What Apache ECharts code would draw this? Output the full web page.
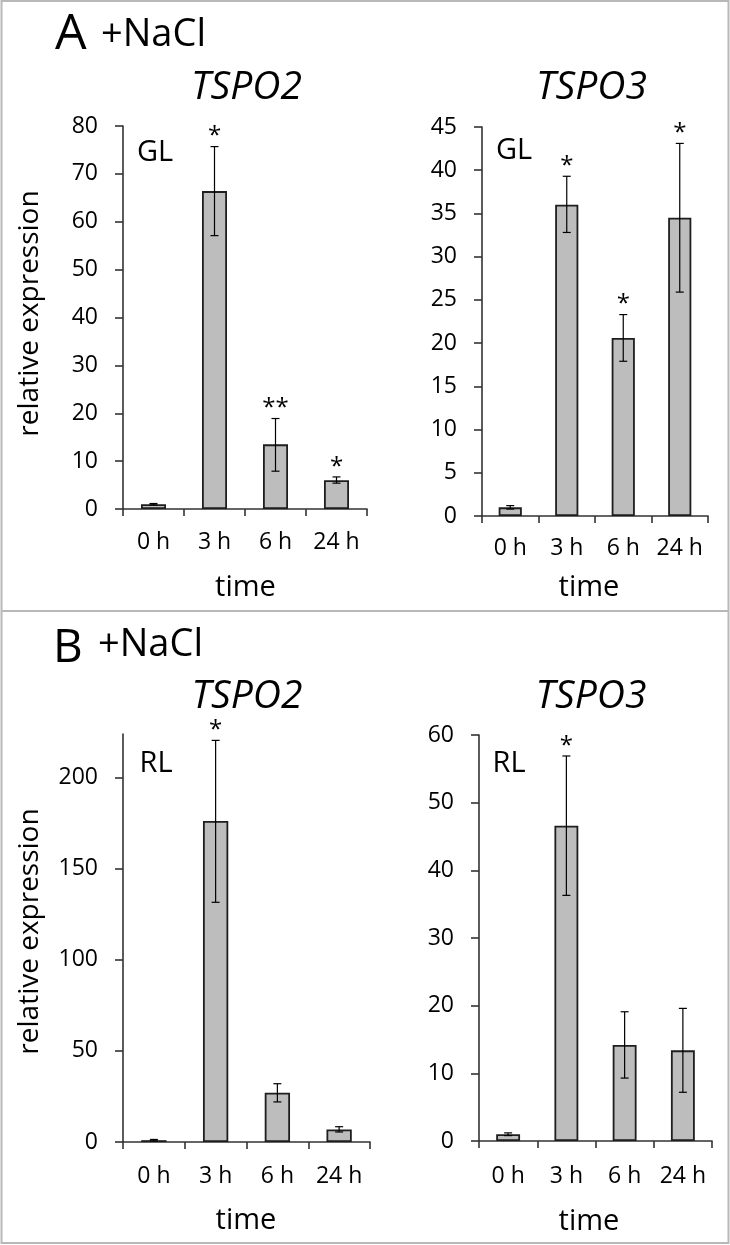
<!DOCTYPE html>
<html><head><meta charset="utf-8">
<script src="https://cdn.jsdelivr.net/npm/echarts@6/dist/echarts.min.js"></script>
<style>html,body{margin:0;padding:0;background:#fff}#c{width:730px;height:1245px}</style>
</head><body><div id="c"></div>
<script>
const categories = ['0 h', '3 h', '6 h', '24 h'];

// Panel A, GL, TSPO2
const a2Mean = [1.0, 66.4, 13.5, 6.0];
const a2Low  = [0.85, 57.1, 7.9, 5.4];
const a2High = [1.15, 75.7, 18.9, 6.7];
const a2Sig  = ['', '*', '**', '*'];
// Panel A, GL, TSPO3
const a3Mean = [1.0, 36.0, 20.6, 34.5];
const a3Low  = [0.8, 32.8, 17.9, 25.9];
const a3High = [1.2, 39.3, 23.3, 43.1];
const a3Sig  = ['', '*', '*', '*'];
// Panel B, RL, TSPO2
const b2Mean = [1.0, 176.2, 27.1, 6.9];
const b2Low  = [0.6, 131.6, 22.0, 5.5];
const b2High = [1.4, 220.5, 32.0, 8.4];
const b2Sig  = ['', '*', '', ''];
// Panel B, RL, TSPO3
const b3Mean = [1.0, 46.6, 14.2, 13.4];
const b3Low  = [0.8, 36.3, 9.3, 7.2];
const b3High = [1.2, 56.9, 19.1, 19.6];
const b3Sig  = ['', '*', '', ''];

// y-axis ticks
const yTicksA2 = [0, 10, 20, 30, 40, 50, 60, 70, 80];
const yTicksA3 = [0, 5, 10, 15, 20, 25, 30, 35, 40, 45];
const yTicksB2 = [0, 50, 100, 150, 200];
const yMaxB2 = 224;
const yTicksB3 = [0, 10, 20, 30, 40, 50, 60];

const FONT = '"Open Sans", "DejaVu Sans", sans-serif';
const AX = '#333';

const grids = [
  {left: 123, top: 126, width: 244, height: 383},
  {left: 482, top: 127, width: 226, height: 389},
  {left: 123, top: 734, width: 247, height: 408},
  {left: 479, top: 735, width: 233, height: 406}
].map(g => Object.assign({containLabel: false, outerBoundsMode: 'none'}, g));

const xMargins = [22, 21, 23, 24];
const xAxes = grids.map((g, i) => ({
  type: 'category', gridIndex: i, data: categories, boundaryGap: true,
  axisLine: {show: true, lineStyle: {color: AX, width: 1.6}},
  axisTick: {show: true, length: 7, lineStyle: {color: AX, width: 1.6}},
  axisLabel: {margin: xMargins[i], fontSize: 23, interval: 0, hideOverlap: false,
    color: '#000', fontFamily: FONT},
  splitLine: {show: false}
}));

function yAxis(i, ticks, max) {
  return {
    type: 'value', gridIndex: i, min: 0, max: max,
    axisLine: {show: true, lineStyle: {color: AX, width: 1.6}},
    axisTick: {show: true, length: 8, lineStyle: {color: AX, width: 1.6}, customValues: ticks},
    axisLabel: {margin: 25, fontSize: 23, color: '#000', fontFamily: FONT, customValues: ticks},
    splitLine: {show: false}
  };
}
const yAxes = [
  yAxis(0, yTicksA2, yTicksA2[yTicksA2.length - 1]),
  yAxis(1, yTicksA3, yTicksA3[yTicksA3.length - 1]),
  yAxis(2, yTicksB2, yMaxB2),
  yAxis(3, yTicksB3, yTicksB3[yTicksB3.length - 1])
];

function barSeries(i, mean) {
  return {
    type: 'bar', xAxisIndex: i, yAxisIndex: i, data: mean, barWidth: '41%',
    itemStyle: {color: '#bdbdbd', borderColor: '#1e1e1e', borderWidth: 1.8},
    silent: true, animation: false
  };
}
function errSeries(i, low, high, sig) {
  return {
    type: 'custom', xAxisIndex: i, yAxisIndex: i, z: 10, animation: false, silent: true,
    data: categories.map((c, k) => [k, low[k], high[k]]),
    encode: {x: 0, y: [1, 2]},
    renderItem: function (params, api) {
      const k = api.value(0);
      const lo = api.coord([k, api.value(1)]);
      const hi = api.coord([k, api.value(2)]);
      const cap = 4;
      const st = {stroke: '#000', lineWidth: 1.2};
      const children = [
        {type: 'line', shape: {x1: lo[0], y1: lo[1], x2: hi[0], y2: hi[1]}, style: st},
        {type: 'line', shape: {x1: lo[0] - cap, y1: lo[1], x2: lo[0] + cap, y2: lo[1]}, style: st},
        {type: 'line', shape: {x1: hi[0] - cap, y1: hi[1], x2: hi[0] + cap, y2: hi[1]}, style: st}
      ];
      const s = sig[params.dataIndex];
      if (s) {
        children.push({type: 'text', x: hi[0], y: hi[1] - 10,
          style: {text: s, fill: '#000', font: '24px ' + FONT, align: 'center', verticalAlign: 'middle'}});
      }
      return {type: 'group', children: children};
    }
  };
}

function txt(text, x, y, size, opts) {
  return Object.assign({
    type: 'text', x: x, y: y, silent: true,
    style: Object.assign({text: text, fill: '#000', fontSize: size, fontFamily: FONT,
      align: 'center', verticalAlign: 'middle'}, (opts && opts.style) || {})
  }, (opts && opts.el) || {});
}
const L = {style: {align: 'left'}};
const IT = {style: {fontStyle: 'italic'}};

const graphic = [
  {type: 'rect', silent: true, shape: {x: 1.5, y: 1, width: 727, height: 1242},
    style: {fill: 'none', stroke: '#b8b8b8', lineWidth: 2}},
  {type: 'line', silent: true, shape: {x1: 1, y1: 611, x2: 729, y2: 611},
    style: {stroke: '#b8b8b8', lineWidth: 2}},
  txt('A', 55, 35, 50, L),
  txt('+NaCl', 101, 35, 38, L),
  txt('B', 53, 649, 46, L),
  txt('+NaCl', 98, 645, 38, L),
  txt('TSPO2', 246.5, 88, 39, IT),
  txt('TSPO3', 591.5, 88, 39, IT),
  txt('TSPO2', 247, 697, 39, IT),
  txt('TSPO3', 591, 697, 39, IT),
  txt('GL', 137, 153, 29, L),
  txt('GL', 496, 150.5, 29, L),
  txt('RL', 139.5, 764, 29, L),
  txt('RL', 492.5, 764, 29, L),
  txt('time', 245.5, 588, 29),
  txt('time', 589, 588, 29),
  txt('time', 246, 1221, 29),
  txt('time', 589, 1222, 29),
  txt('relative expression', 29.6, 313.5, 28, {el: {rotation: Math.PI / 2}}),
  txt('relative expression', 29.6, 931.5, 28, {el: {rotation: Math.PI / 2}})
];

const chart = echarts.init(document.getElementById('c'), null, {renderer: 'canvas'});
chart.setOption({
  animation: false,
  backgroundColor: '#fff',
  grid: grids,
  xAxis: xAxes,
  yAxis: yAxes,
  series: [
    barSeries(0, a2Mean), errSeries(0, a2Low, a2High, a2Sig),
    barSeries(1, a3Mean), errSeries(1, a3Low, a3High, a3Sig),
    barSeries(2, b2Mean), errSeries(2, b2Low, b2High, b2Sig),
    barSeries(3, b3Mean), errSeries(3, b3Low, b3High, b3Sig)
  ],
  graphic: graphic
});
</script></body></html>
